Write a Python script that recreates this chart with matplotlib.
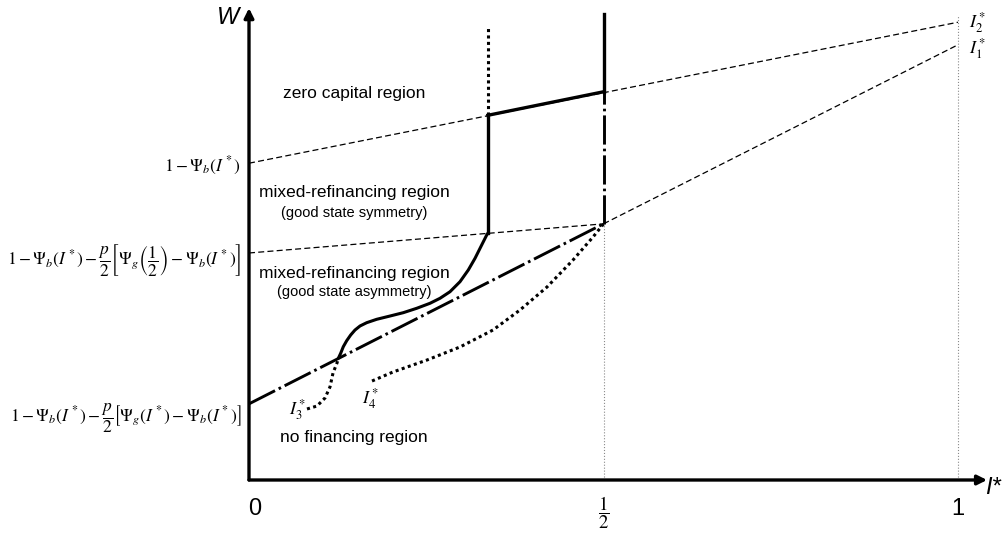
import numpy as np
import matplotlib
matplotlib.use("Agg")
import matplotlib.pyplot as plt

plt.rcParams['font.family'] = ['Liberation Sans', 'DejaVu Sans']
plt.rcParams['mathtext.fontset'] = 'stix'

# key levels on the W axis (x = I*)
w_low = 0.162    # 1 - Psi_b - p/2[Psi_g(I*) - Psi_b]
w_mid = 0.483    # 1 - Psi_b - p/2[Psi_g(1/2) - Psi_b]
w_up = 0.674     # 1 - Psi_b(I*)
w_half_low = 0.545   # long-dash line at I* = 1/2
w_half_up = 0.826    # upper line at I* = 1/2
w_i1 = 0.926
w_i2 = 0.974
x_v = 0.337          # vertical boundary
w_v_mid = 0.525
w_v_up = 0.776
w_top_solid = 0.991
w_top_dot = 0.962

# solid boundary curve
solid_x = [0.1260, 0.1293, 0.1330, 0.1378, 0.1434, 0.1495, 0.1566, 0.1660,
           0.1801, 0.1989, 0.2176, 0.2365, 0.2553, 0.2694, 0.2835, 0.2976,
           0.3093, 0.3188, 0.3282, 0.3353, 0.3371]
solid_w = [0.2589, 0.2696, 0.2836, 0.2964, 0.3085, 0.3191, 0.3277, 0.3347,
           0.3419, 0.3489, 0.3560, 0.3653, 0.3760, 0.3866, 0.4006, 0.4219,
           0.4468, 0.4717, 0.5000, 0.5213, 0.5255]

# dotted curve from I3*
i3_x = [0.0818, 0.0959, 0.1072, 0.1142, 0.1185, 0.1241, 0.1260]
i3_w = [0.1511, 0.1574, 0.1745, 0.1979, 0.2277, 0.2489, 0.2589]

# dotted curve from I4*
i4_x = [0.1735, 0.2031, 0.2511, 0.2976, 0.3441, 0.3822, 0.4203, 0.4570,
        0.4852, 0.5]
i4_w = [0.2106, 0.2298, 0.2553, 0.2830, 0.3191, 0.3617, 0.4106, 0.4681,
        0.5170, 0.5447]

fig = plt.figure(figsize=(10.06, 5.33), dpi=100)
ax = fig.add_axes([0, 0, 1, 1])
ax.set_xlim(-249 / 709, (1006 - 249) / 709)
ax.set_ylim(-53 / 470, 480 / 470)
ax.axis('off')

thin = dict(color='k', lw=0.9, dashes=(4.8, 2.6))
longdash = dict(color='k', lw=2.1, dashes=(10, 1.4, 0.9, 1.4))
grey = dict(color='#8a8a8a', lw=0.8, ls=':')

# thin dashed lines
ax.plot([0, 1], [w_up, w_i2], **thin)
ax.plot([0, 0.5], [w_mid, w_half_low], **thin)
ax.plot([0.5, 1], [w_half_low, w_i1], **thin)

# grey verticals
ax.plot([0.5, 0.5], [0, w_half_low], **grey)
ax.plot([1, 1], [0, 0.99], **grey)

# long-dash lines
ax.plot([0, 0.5], [w_low, w_half_low], **longdash)
ax.plot([0.5, 0.5], [w_half_low, w_half_up], **longdash)

# solid boundaries
ax.plot(solid_x, solid_w, color='k', lw=2.2, solid_capstyle='round',
        solid_joinstyle='round')
ax.plot([x_v, x_v], [w_v_mid, w_v_up], color='k', lw=2.4)
ax.plot([x_v, 0.5], [w_v_up, w_half_up], color='k', lw=2.4)
ax.plot([0.5, 0.5], [w_half_up, w_top_solid], color='k', lw=2.4)

# dotted curves
ax.plot([x_v, x_v], [w_v_up, w_top_dot], color='k', lw=2.2, dashes=(1, 1.1))
ax.plot(i3_x, i3_w, color='k', lw=2.2, dashes=(1, 1.1))
ax.plot(i4_x, i4_w, color='k', lw=2.2, dashes=(1, 1.1))

# axes with arrows
arr = dict(arrowstyle='-|>', lw=2.4, color='k', mutation_scale=14,
           shrinkA=0, shrinkB=0)
ax.annotate('', xy=(0, 1.004), xytext=(0, 0), arrowprops=arr)
ax.annotate('', xy=(1.041, 0), xytext=(0, 0), arrowprops=arr)

# axis labels
ax.text(-0.030, 0.983, 'W', fontsize=17, style='italic', ha='center', va='center')
ax.text(1.050, -0.015, 'I*', fontsize=17, style='italic', ha='center', va='center')
ax.text(0.008, -0.062, '0', fontsize=17, ha='center', va='center')
ax.text(1.0, -0.062, '1', fontsize=17, ha='center', va='center')
ax.text(0.5, -0.069, r'$\dfrac{1}{2}$', fontsize=13.5, ha='center', va='center')

# left level labels
lab_fs = 12.5
ax.text(-0.011, w_up, r'$1-\Psi_b\left(I^*\right)$', fontsize=lab_fs,
        ha='right', va='center_baseline')
ax.text(-0.011, w_mid,
        r'$1-\Psi_b\left(I^*\right)-\dfrac{p}{2}\left[\Psi_g\left(\dfrac{1}{2}\right)-\Psi_b\left(I^*\right)\right]$',
        fontsize=lab_fs, ha='right', va='center_baseline')
ax.text(-0.011, 0.145,
        r'$1-\Psi_b\left(I^*\right)-\dfrac{p}{2}\left[\Psi_g\left(I^*\right)-\Psi_b\left(I^*\right)\right]$',
        fontsize=lab_fs, ha='right', va='center_baseline')

# I* labels
ax.text(1.015, 0.974, r'$I_2^*$', fontsize=13, ha='left', va='center')
ax.text(1.015, 0.917, r'$I_1^*$', fontsize=13, ha='left', va='center')
ax.text(0.068, 0.150, r'$I_3^*$', fontsize=13, ha='center', va='center')
ax.text(0.172, 0.174, r'$I_4^*$', fontsize=13, ha='center', va='center')

# region labels
rx = 0.148
ax.text(rx, 0.823, 'zero capital region', fontsize=12.5, ha='center', va='center')
ax.text(rx, 0.611, 'mixed-refinancing region', fontsize=12.5, ha='center', va='center')
ax.text(rx, 0.568, '(good state symmetry)', fontsize=10.5, ha='center', va='center')
ax.text(rx, 0.440, 'mixed-refinancing region', fontsize=12.5, ha='center', va='center')
ax.text(rx, 0.400, '(good state asymmetry)', fontsize=10.5, ha='center', va='center')
ax.text(rx, 0.091, 'no financing region', fontsize=12.5, ha='center', va='center')

fig.savefig('out.png', dpi=100)
